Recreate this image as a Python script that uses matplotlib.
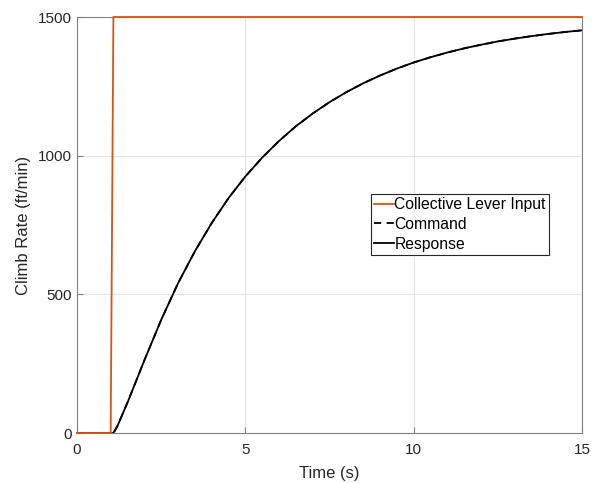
import matplotlib
matplotlib.use("Agg")
import matplotlib.pyplot as plt

plt.rcParams['font.family'] = ['Liberation Sans', 'DejaVu Sans']

# collective lever input (ft/min)
t_input = [0, 1.0, 1.08, 15]
y_input = [0, 0, 1500, 1500]

# command / response
t_resp = [0, 1.0, 1.08, 1.2, 1.5, 2.0, 2.5, 3.0, 3.5, 4.0, 4.5, 5.0, 5.5, 6.0, 6.5,
          7.0, 7.5, 8.0, 8.5, 9.0, 9.5, 10.0, 10.5, 11.0, 11.5, 12.0, 12.5, 13.0,
          13.5, 14.0, 14.5, 15.0]
y_resp = [0, 0, 0, 25, 110, 262, 408, 540, 655, 757, 847, 925, 993, 1053, 1106,
          1152, 1193, 1229, 1261, 1289, 1314, 1336, 1355, 1372, 1387, 1400, 1412,
          1422, 1431, 1439, 1446, 1452]
y_cmd = y_resp

fig = plt.figure(figsize=(5.98, 4.83), dpi=100)
ax = fig.add_axes([0.1288, 0.1035, 0.8445, 0.8613])

ax.plot(t_input, y_input, color='#D95319', linewidth=1.3, label='Collective Lever Input',
        clip_on=False, zorder=4)
ax.plot(t_resp, y_cmd, color='black', linestyle=(0, (4, 3)), linewidth=1.3, label='Command')
ax.plot(t_resp, y_resp, color='black', linewidth=1.3, label='Response')

ax.set_xlim(0, 15)
ax.set_ylim(0, 1500)
ax.set_xticks([0, 5, 10, 15])
ax.set_yticks([0, 500, 1000, 1500])
ax.grid(True, color='#e3e3e3', linewidth=0.8)
ax.set_axisbelow(True)
for s in ax.spines.values():
    s.set_color('#808080')
    s.set_linewidth(0.8)
ax.tick_params(direction='in', length=4, color='#808080', labelsize=11, labelcolor='#262626')
ax.tick_params(axis='x', pad=7)

ax.set_xlabel('Time (s)', fontsize=12, color='#262626', labelpad=7)
ax.set_ylabel('Climb Rate (ft/min)', fontsize=12, color='#262626', labelpad=5)

leg = ax.legend(loc='upper left', bbox_to_anchor=(0.582, 0.5745), fontsize=11.3,
                handlelength=1.25, handletextpad=0.05, borderpad=0.2, labelspacing=0.3,
                fancybox=False, framealpha=1, borderaxespad=0)
leg.get_frame().set_edgecolor('#262626')
leg.get_frame().set_linewidth(0.8)

fig.savefig('out.png', dpi=100)
